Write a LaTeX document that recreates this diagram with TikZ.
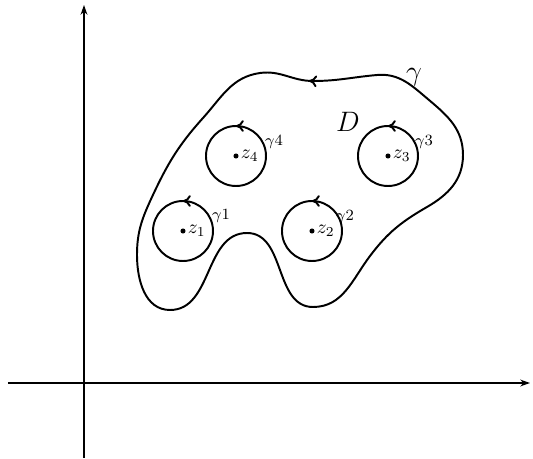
\documentclass[tikz,border=0pt]{standalone}
\usepackage{amsmath}
\usepackage{tikz}
\usetikzlibrary{arrows.meta,decorations.markings}

\begin{document}
\begin{tikzpicture}[
        x=0.018cm, y=0.018cm,
        axis/.style={line width=0.8pt, -{Stealth[length=5pt, width=3.5pt]}},
        loop/.style={line width=1pt, postaction={decorate},
            decoration={markings, mark=at position #1 with {\arrow{To[length=4pt, width=6pt]}}}},
        loop/.default=0.25,
        pole/.style={circle, fill=black, inner sep=0pt, minimum size=2.6pt},
        polelabel/.style={right, inner sep=0.8pt},
        looplabel/.style={font=\footnotesize, inner sep=0pt}
    ]
        \useasboundingbox (-84, -76) rectangle (449, 383);

        % Axes
        \coordinate (O) at (0, 0);
        \coordinate (xstart) at (-76, 0);
        \coordinate (xend) at (446, 0);
        \coordinate (ystart) at (0, -75);
        \coordinate (yend) at (0, 378);
        \draw[axis] (xstart) -- (xend);
        \draw[axis] (ystart) -- (yend);

        % Boundary curve
        \coordinate (b0) at (229, 302);
        \coordinate (b1) at (176, 310);
        \coordinate (b2) at (119, 265);
        \coordinate (b3) at (68, 186);
        \coordinate (b4) at (53, 128);
        \coordinate (b5) at (86, 73);
        \coordinate (b6) at (163, 150);
        \coordinate (b7) at (229, 76);
        \coordinate (b8) at (286, 127);
        \coordinate (b9) at (343, 176);
        \coordinate (b10) at (379, 228);
        \coordinate (b11) at (345, 283);
        \coordinate (b12) at (293, 308);
        \draw[loop=0.004] (b0) to[out=180, in=8] (b1) to[out=188, in=48] (b2)
            to[out=228, in=65] (b3) to[out=245, in=90] (b4)
            to[out=270, in=180] (b5) to[out=0, in=180] (b6)
            to[out=0, in=180] (b7) to[out=0, in=233] (b8)
            to[out=53, in=210] (b9) to[out=30, in=270] (b10)
            to[out=90, in=320] (b11) to[out=140, in=5] (b12)
            to[out=185, in=0] (b0) -- cycle;
        \node[font=\Large] (gamma) at (330, 306) {$\gamma$};
        \node[font=\Large] (D) at (264, 261) {$D$};

        % Small circles
        \coordinate (c1) at (99, 152);
        \coordinate (c2) at (228, 152);
        \coordinate (c3) at (304, 227);
        \coordinate (c4) at (152, 227);
        \draw[loop] (c1) circle (30);
        \draw[loop] (c2) circle (30);
        \draw[loop] (c3) circle (30);
        \draw[loop] (c4) circle (30);

        % Points
        \node[pole] (p1) at (c1) {};
        \node[pole] (p2) at (c2) {};
        \node[pole] (p3) at (c3) {};
        \node[pole] (p4) at (c4) {};
        \node[polelabel] (z1) at (p1.east) {$z_1$};
        \node[polelabel] (z2) at (p2.east) {$z_2$};
        \node[polelabel] (z3) at (p3.east) {$z_3$};
        \node[polelabel] (z4) at (p4.east) {$z_4$};

        % Circle labels
        \node[looplabel] (g1) at (137, 167) {$\gamma$1};
        \node[looplabel] (g2) at (261, 166) {$\gamma$2};
        \node[looplabel] (g3) at (340, 241) {$\gamma$3};
        \node[looplabel] (g4) at (190, 241) {$\gamma$4};
    \end{tikzpicture}
\end{document}
